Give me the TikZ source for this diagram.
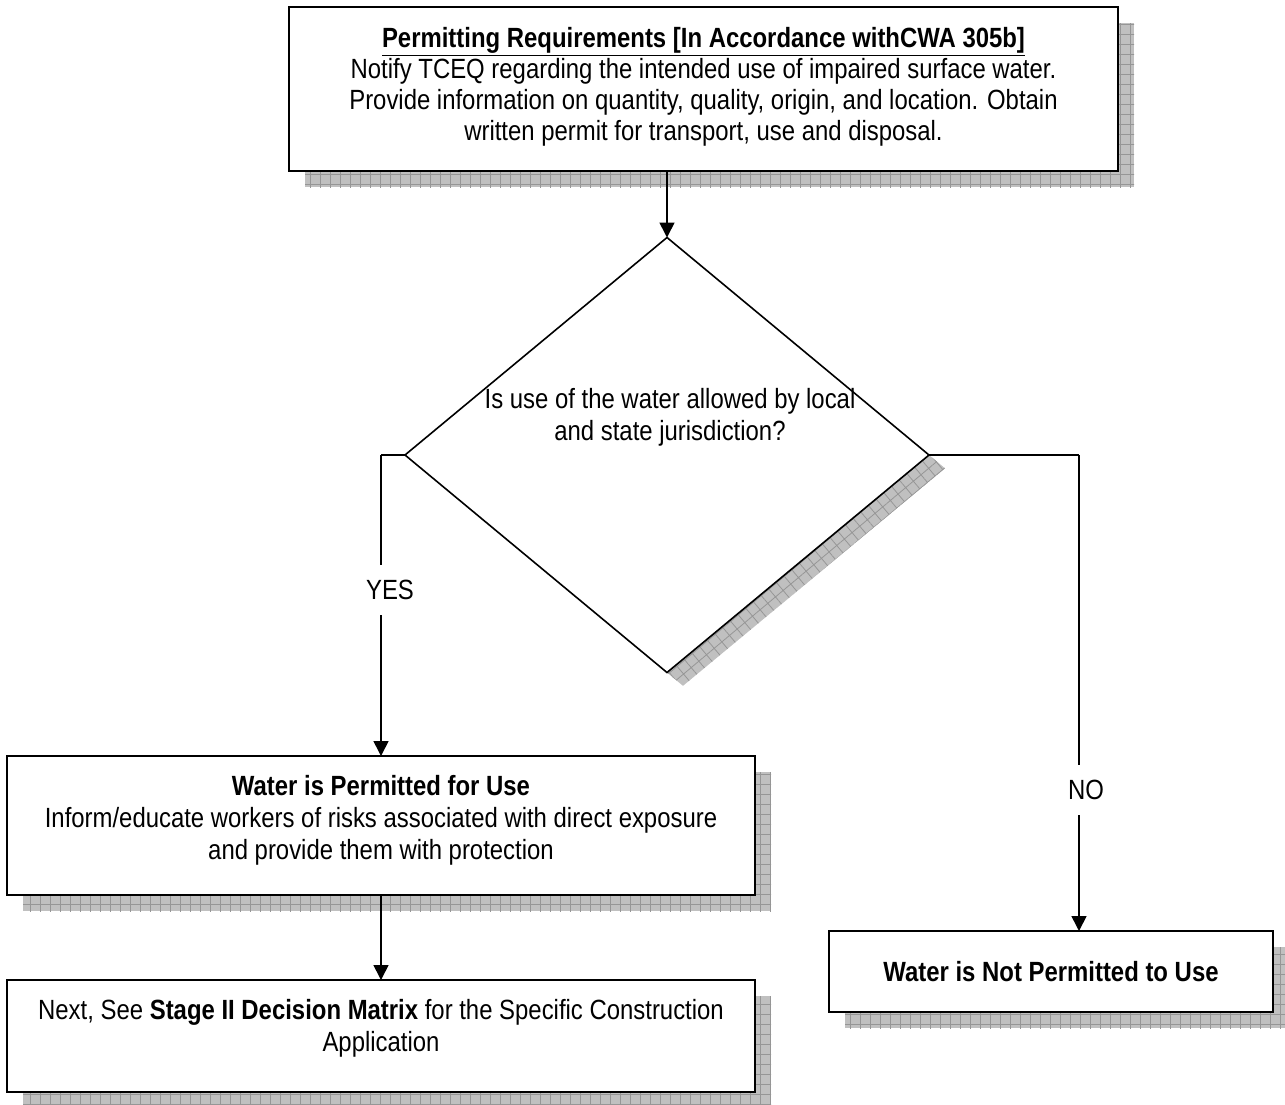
\documentclass[tikz,border=0pt]{standalone}
\usepackage{fontspec}
\setmainfont{Liberation Sans}[FakeStretch=0.86]
\usetikzlibrary{shapes.geometric,shadows,arrows.meta,patterns.meta}
\definecolor{shfill}{RGB}{192,192,192}
\definecolor{shline}{RGB}{150,150,150}
\tikzset{
  shad/.style n args={3}{
    drop shadow={shadow xshift=#1,shadow yshift=#2,fill=shfill,opacity=1},
    drop shadow={shadow xshift=#1,shadow yshift=#2,pattern={Hatch[angle=#3,distance=10pt,line width=0.8pt]},pattern color=shline,opacity=1}},
  box/.style={draw,line width=1.6pt,fill=white,rectangle,inner sep=0pt,outer sep=0pt,shad={16pt}{-16pt}{0}},
  decision/.style={draw,line width=1.6pt,fill=white,diamond,inner sep=0pt,outer sep=0pt,shad={16pt}{-13.3pt}{40}},
  txt/.style={align=center,inner sep=0pt,font=\fontsize{27.8}{32}\selectfont},
  lab/.style={fill=white,inner xsep=3pt,minimum height=50pt,font=\fontsize{27.8}{32}\selectfont},
  conn/.style={line width=1.6pt},
  arr/.style={line width=1.6pt,-{Triangle[width=15pt,length=15pt]}}
}
\begin{document}
\begin{tikzpicture}[x=1pt,y=-1pt]
\useasboundingbox (0,0) rectangle (1285,1104);
% boxes
\node[box,minimum width=829pt,minimum height=164pt] (top) at (703.5,89) {};
\node[txt,font=\fontsize{27.8}{31}\selectfont] (toptxt) at (703.5,87) {\textbf{\underline{Permitting Requirements [In Accordance withCWA 305b]}}\\Notify TCEQ regarding the intended use of impaired surface water.\\Provide information on quantity, quality, origin, and location. Obtain\\written permit for transport, use and disposal.};
\node[decision,minimum width=524pt,minimum height=435pt] (dia) at (667,455) {};
\node[txt] (diatxt) at (670,417) {Is use of the water allowed by local\\and state jurisdiction?};
\node[box,minimum width=748pt,minimum height=139pt] (b2) at (381,825.5) {};
\node[txt] (b2txt) at (381,820) {\textbf{Water is Permitted for Use}\\Inform/educate workers of risks associated with direct exposure\\and provide them with protection};
\node[box,minimum width=748pt,minimum height=112pt] (b4) at (381,1036) {};
\node[txt] (b4txt) at (381,1028) {Next, See \textbf{Stage II Decision Matrix} for the Specific Construction\\Application};
\node[box,minimum width=444pt,minimum height=81pt] (b3) at (1051,971.5) {};
\node[txt] (b3txt) at (1051,972) {\textbf{Water is Not Permitted to Use}};
% connectors
\draw[arr] (dia.north |- top.south) -- (dia.north);
\coordinate (yescorner) at (381,455);
\coordinate (nocorner) at (1079,455);
\draw[conn] (dia.west) -- (yescorner);
\draw[arr] (yescorner) -- (b2.north);
\draw[conn] (dia.east) -- (nocorner);
\draw[arr] (nocorner) -- (nocorner |- b3.north);
\draw[arr] (b2.south) -- (b4.north);
\node[lab] (yes) at (390,590) {YES};
\node[lab] (no) at (1086,790) {NO};
\end{tikzpicture}
\end{document}
